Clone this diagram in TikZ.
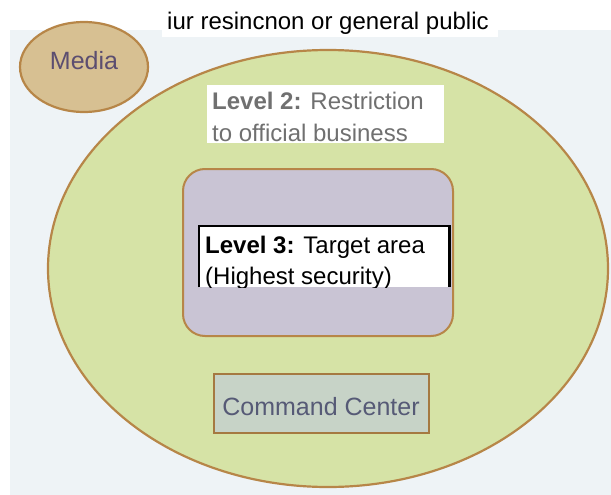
\documentclass[tikz,border=0pt]{standalone}
\usepackage{fontspec}
\setmainfont{Liberation Sans}
\usetikzlibrary{shapes.geometric}

\definecolor{backdrop}{RGB}{238,243,246}
\definecolor{zonegreen}{RGB}{214,227,166}
\definecolor{rimbrown}{RGB}{183,134,72}
\definecolor{mediatan}{RGB}{215,192,146}
\definecolor{targetlilac}{RGB}{201,196,212}
\definecolor{commandgrey}{RGB}{199,211,199}
\definecolor{labelgrey}{RGB}{112,112,112}
\definecolor{inkpurple}{RGB}{92,78,112}
\definecolor{inkslate}{RGB}{86,90,118}

\begin{document}
\begin{tikzpicture}[x=1pt, y=-1pt,
    zone/.style={draw=rimbrown, line width=2.2pt},
    whitebox/.style={rectangle, fill=white, inner sep=0pt, anchor=north west},
    txt/.style={inner sep=0pt, font=\fontsize{24}{29}\selectfont}]

    \useasboundingbox (0,0) rectangle (611,495);
    \fill[backdrop] (10,30) rectangle (611,495);

    % zones
    \node[ellipse,
    zone,
    fill = zonegreen,
    minimum width = 560,
    minimum height = 437] (outer) at (328,268.5) {};

    \node[ellipse,
    zone,
    fill = mediatan,
    minimum width = 128,
    minimum height = 90] (media) at (84,67) {};

    \node[rectangle,
    rounded corners = 22,
    draw = rimbrown,
    line width = 2pt,
    fill = targetlilac,
    anchor = north west,
    minimum width = 270,
    minimum height = 167] (target) at (182,168) {};

    \node[rectangle,
    draw = rimbrown!90!black,
    line width = 2pt,
    fill = commandgrey,
    anchor = north west,
    minimum width = 215,
    minimum height = 59] (command) at (213,373) {};

    % white boxes
    \node[whitebox, minimum width = 336, minimum height = 37] (titlebox) at (162,0) {};
    \node[whitebox, minimum width = 237, minimum height = 58] (lvtwo) at (207,85) {};
    \node[whitebox, minimum width = 250, minimum height = 61] (lvthree) at (199,226) {};
    \draw[line width = 2.5pt] (lvthree.south west) -- (lvthree.north west)
      -- (lvthree.north east) -- (lvthree.south east);

    % texts
    \node[txt, anchor = base west] (title) at (167,30) {iur resincnon or general public};
    \node[txt, text = inkpurple, font = \fontsize{25}{30}\selectfont] (medialbl) at (84,61) {Media};
    \node[txt, text = inkslate, font = \fontsize{25}{30}\selectfont, anchor = base] (commandlbl) at (321,415) {Command Center};

    \begin{scope}
      \clip (lvtwo.north west) rectangle (lvtwo.south east);
      \node[txt, text = labelgrey, anchor = base west] (two1) at (212,110) {\textbf{Level 2:} Restriction};
      \node[txt, text = labelgrey, anchor = base west] (two2) at (212,141) {to official business};
    \end{scope}

    \begin{scope}
      \clip ([xshift=1.25pt]lvthree.north west) rectangle ([xshift=-1.25pt]lvthree.south east);
      \node[txt, anchor = base west] (three1) at (205,253) {\textbf{Level 3:} Target area};
      \node[txt, anchor = base west] (three2) at (205,284) {(Highest security)};
    \end{scope}

\end{tikzpicture}
\end{document}
